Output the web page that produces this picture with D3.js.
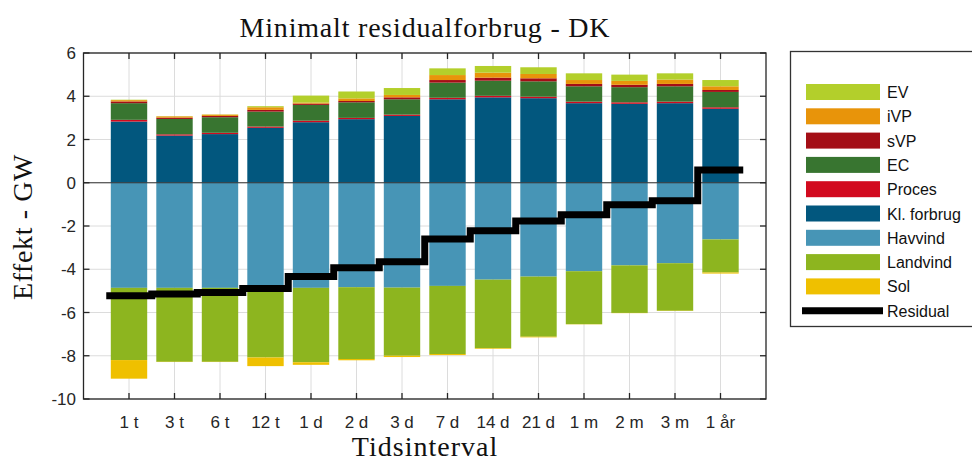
<!DOCTYPE html>
<html><head><meta charset="utf-8">
<script src="https://cdn.jsdelivr.net/npm/d3@7"></script>
<style>body{margin:0;background:#fff}svg{display:block}</style>
</head><body>
<svg id="c" width="972" height="461"></svg>
<script>
const categories = ["1 t","3 t","6 t","12 t","1 d","2 d","3 d","7 d","14 d","21 d","1 m","2 m","3 m","1 år"];
// positive stack (bottom -> top)
const klForbrug = [2.83,2.18,2.25,2.54,2.80,2.94,3.09,3.86,3.95,3.91,3.68,3.65,3.68,3.42];
const proces    = [0.08,0.06,0.06,0.06,0.07,0.06,0.06,0.07,0.07,0.07,0.07,0.07,0.07,0.07];
const ec        = [0.77,0.71,0.72,0.69,0.73,0.72,0.71,0.70,0.70,0.71,0.71,0.70,0.71,0.71];
const sVP       = [0.08,0.06,0.06,0.08,0.06,0.06,0.09,0.12,0.14,0.14,0.11,0.11,0.11,0.09];
const iVP       = [0.06,0.06,0.06,0.12,0.05,0.12,0.11,0.23,0.23,0.20,0.18,0.18,0.20,0.17];
const ev        = [0.02,0.01,0.01,0.05,0.32,0.32,0.32,0.31,0.31,0.31,0.31,0.29,0.29,0.29];
// negative stack (0 -> down)
const havvind   = [-4.86,-4.86,-4.86,-4.95,-4.86,-4.83,-4.85,-4.77,-4.48,-4.34,-4.09,-3.82,-3.72,-2.62];
const landvind  = [-3.34,-3.42,-3.42,-3.13,-3.44,-3.32,-3.15,-3.15,-3.17,-2.78,-2.45,-2.20,-2.20,-1.53];
const sol       = [-0.86,-0.01,-0.01,-0.40,-0.12,-0.06,-0.06,-0.05,-0.03,-0.03,-0.01,-0.01,-0.01,-0.05];
const residual  = [-5.22,-5.15,-5.08,-4.89,-4.34,-3.93,-3.65,-2.60,-2.22,-1.77,-1.48,-1.02,-0.83,0.59];
const yTicks = [6,4,2,0,-2,-4,-6,-8,-10];

const posSeries = [
  {name:"Kl. forbrug", values:klForbrug, color:"#02577e"},
  {name:"Proces", values:proces, color:"#d20a1e"},
  {name:"EC", values:ec, color:"#387530"},
  {name:"sVP", values:sVP, color:"#a40e16"},
  {name:"iVP", values:iVP, color:"#e8940a"},
  {name:"EV", values:ev, color:"#b3cf2b"}
];
const negSeries = [
  {name:"Havvind", values:havvind, color:"#4795b6"},
  {name:"Landvind", values:landvind, color:"#8db51f"},
  {name:"Sol", values:sol, color:"#efc000"}
];
const legendOrder = ["EV","iVP","sVP","EC","Proces","Kl. forbrug","Havvind","Landvind","Sol"];

const svg = d3.select("#c");
const L = 83.5, R = 766, T = 53, B = 399;
const x = d3.scalePoint().domain(categories).range([L, R]).padding(1);
const step = x.step();
const bw = step * 0.8;
const y = d3.scaleLinear().domain([-10, 6]).range([B, T]);

// grid
const g = svg.append("g");
g.selectAll(".gy").data(yTicks).join("line")
  .attr("x1", L).attr("x2", R).attr("y1", d=>y(d)).attr("y2", d=>y(d))
  .attr("stroke", "#dcdcdc").attr("stroke-width", 1);
g.selectAll(".gx").data(categories).join("line")
  .attr("x1", d=>x(d)).attr("x2", d=>x(d)).attr("y1", T).attr("y2", B)
  .attr("stroke", "#dcdcdc").attr("stroke-width", 1);

// bars
const rects = [];
categories.forEach((c, i) => {
  let acc = 0;
  posSeries.forEach(s => { const v = s.values[i]; rects.push({c, y0:acc, y1:acc+v, color:s.color}); acc += v; });
  acc = 0;
  negSeries.forEach(s => { const v = s.values[i]; rects.push({c, y0:acc, y1:acc+v, color:s.color}); acc += v; });
});
svg.append("g").selectAll("rect").data(rects).join("rect")
  .attr("x", d => x(d.c) - bw/2).attr("width", bw)
  .attr("y", d => y(Math.max(d.y0, d.y1)))
  .attr("height", d => Math.abs(y(d.y0) - y(d.y1)))
  .attr("fill", d => d.color);

// zero baseline
svg.append("line").attr("x1", L).attr("x2", R).attr("y1", y(0)).attr("y2", y(0))
  .attr("stroke", "#333").attr("stroke-width", 1);

// residual stairs
const stairPts = residual.map((v, i) => [x(categories[i]) - step/2, y(v)]);
stairPts.push([x(categories[categories.length-1]) + step/2, y(residual[residual.length-1])]);
svg.append("path").attr("d", d3.line().curve(d3.curveStepAfter)(stairPts))
  .attr("fill", "none").attr("stroke", "#000").attr("stroke-width", 7)
  .attr("stroke-linejoin", "miter");

// axes box
const ax = svg.append("g").attr("font-family", "Liberation Sans, Arial, sans-serif").attr("font-size", 16).attr("fill", "#262626");
const axCol = "#262626";
ax.append("rect").attr("x", L).attr("y", T).attr("width", R-L).attr("height", B-T)
  .attr("fill", "none").attr("stroke", axCol).attr("stroke-width", 1.3);
ax.selectAll(".tb").data(categories).join("line")
  .attr("x1", d=>x(d)).attr("x2", d=>x(d)).attr("y1", B).attr("y2", B-6).attr("stroke", axCol).attr("stroke-width", 1.3);
ax.selectAll(".tt").data(categories).join("line")
  .attr("x1", d=>x(d)).attr("x2", d=>x(d)).attr("y1", T).attr("y2", T+6).attr("stroke", axCol).attr("stroke-width", 1.3);
ax.selectAll(".tl").data(yTicks).join("line")
  .attr("x1", L).attr("x2", L+6).attr("y1", d=>y(d)).attr("y2", d=>y(d)).attr("stroke", axCol).attr("stroke-width", 1.3);
ax.selectAll(".tr").data(yTicks).join("line")
  .attr("x1", R).attr("x2", R-6).attr("y1", d=>y(d)).attr("y2", d=>y(d)).attr("stroke", axCol).attr("stroke-width", 1.3);
ax.selectAll(".lx").data(categories).join("text")
  .attr("x", d=>x(d)).attr("y", 428).attr("text-anchor", "middle").attr("font-size", 17).text(d=>d);
ax.selectAll(".ly").data(yTicks).join("text")
  .attr("x", 76).attr("y", d=>y(d)+6).attr("text-anchor", "end").attr("font-size", 17).text(d=>d);

// titles
const serif = "Liberation Serif, Times New Roman, serif";
svg.append("text").attr("x", 425).attr("y", 37).attr("text-anchor", "middle")
  .attr("font-family", serif).attr("font-size", 28).attr("letter-spacing", 0.8).attr("fill", "#111").text("Minimalt residualforbrug - DK");
svg.append("text").attr("x", 425).attr("y", 456).attr("text-anchor", "middle")
  .attr("font-family", serif).attr("font-size", 28).attr("letter-spacing", 1).attr("fill", "#111").text("Tidsinterval");
svg.append("text").attr("transform", "translate(32,227) rotate(-90)").attr("text-anchor", "middle")
  .attr("font-family", serif).attr("font-size", 28).attr("letter-spacing", 0.6).attr("fill", "#111").text("Effekt - GW");

// legend
const lg = svg.append("g").attr("font-family", "Liberation Sans, Arial, sans-serif").attr("font-size", 16).attr("fill", "#111");
lg.append("rect").attr("x", 790.5).attr("y", 51.5).attr("width", 200).attr("height", 275)
  .attr("fill", "#fff").attr("stroke", "#333").attr("stroke-width", 1.3);
const allSeries = posSeries.concat(negSeries);
const items = legendOrder.map(n => allSeries.find(s => s.name === n));
const ly0 = 84, lstep = 24.3;
lg.selectAll(".sw").data(items).join("rect")
  .attr("x", 806).attr("y", (d,i)=>ly0 + i*lstep).attr("width", 74).attr("height", 16)
  .attr("fill", d=>d.color);
lg.selectAll(".lt").data(items).join("text")
  .attr("x", 887).attr("y", (d,i)=>ly0 + i*lstep + 14).text(d=>d.name);
const ry = ly0 + items.length*lstep + 8;
lg.append("line").attr("x1", 802).attr("x2", 883).attr("y1", ry).attr("y2", ry)
  .attr("stroke", "#000").attr("stroke-width", 7);
lg.append("text").attr("x", 887).attr("y", ry + 6).text("Residual");
</script>
</body></html>
